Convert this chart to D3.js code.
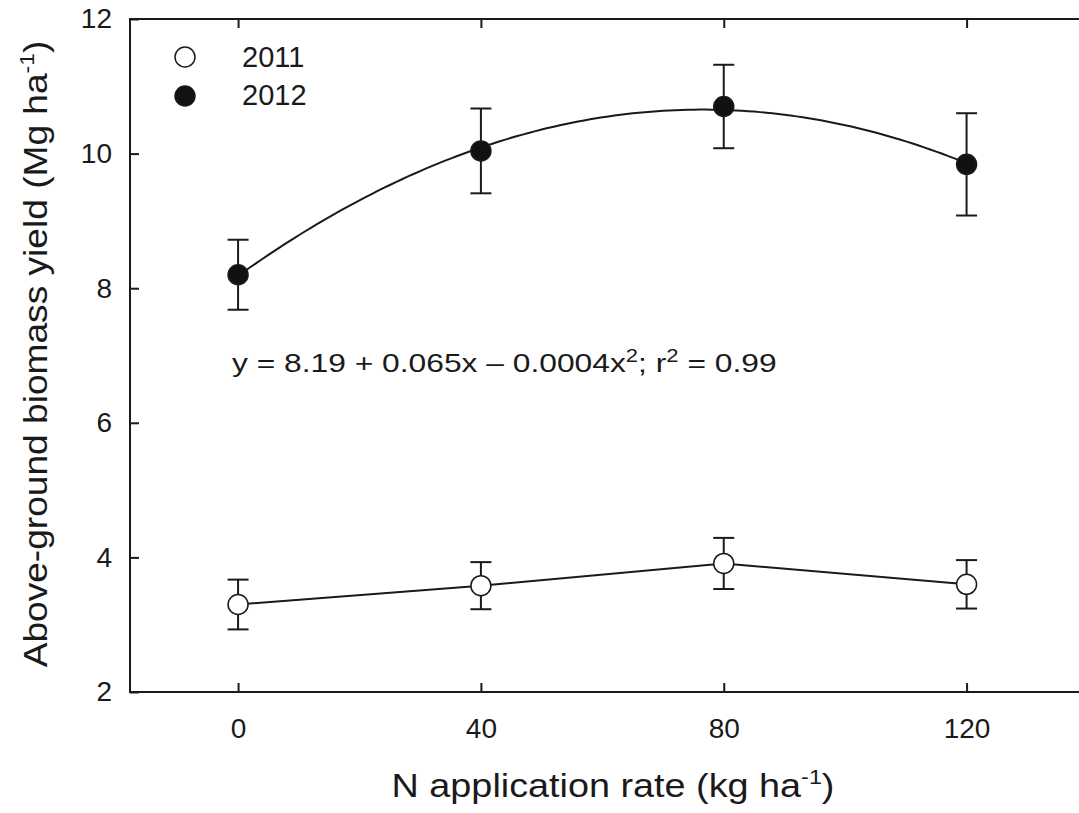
<!DOCTYPE html>
<html>
<head>
<meta charset="utf-8">
<script src="https://cdn.jsdelivr.net/npm/d3@7"></script>
<style>
  body { margin: 0; background: #fff; }
  svg { display: block; font-family: Arial, "Liberation Sans", sans-serif; }
  text { fill: #1a1a1a; }
</style>
</head>
<body>
<svg id="svg" width="1079" height="813"></svg>
<script>
// N rates (kg ha-1)
var rates = [0, 40, 80, 120];
// yields (Mg ha-1) and standard errors
var yield2011 = [3.30, 3.58, 3.91, 3.60];
var err2011 = [0.37, 0.35, 0.38, 0.36];
var yield2012 = [8.20, 10.04, 10.70, 9.84];
var err2012 = [0.52, 0.63, 0.62, 0.76];
var years = ['2011', '2012'];
var xTicks = [0, 40, 80, 120];
var yTicks = [2, 4, 6, 8, 10, 12];

(function() {

var svg = d3.select('#svg');
// plot frame (right edge sits just outside the picture)
var pLeft = 130, pRight = 1088, pTop = 19, pBottom = 692;

var x = d3.scaleLinear().domain([-17.8, 140]).range([pLeft, pRight]);
var y = d3.scaleLinear().domain([2, 12]).range([pBottom, pTop]);
var ink = '#1a1a1a';

// stretch a text along its own baseline so it spans w pixels
function stretchTo(sel, w, base) {
  var len = sel.node().getComputedTextLength();
  var k = w / len;
  sel.attr('transform', (base || '') + ' scale(' + k + ',1)');
}

svg.append('rect')
  .attr('x', pLeft).attr('y', pTop)
  .attr('width', pRight - pLeft).attr('height', pBottom - pTop)
  .attr('fill', 'none').attr('stroke', ink).attr('stroke-width', 2);

// inward ticks on all four sides
var tickLen = 9;
function styleAxis(g) {
  g.select('.domain').remove();
  g.selectAll('line').attr('stroke', ink).attr('stroke-width', 2);
  g.selectAll('text').attr('font-size', 28).attr('fill', ink);
}
svg.append('g').attr('transform', 'translate(0,' + pBottom + ')')
  .call(d3.axisBottom(x).tickValues(xTicks).tickSizeInner(-tickLen).tickPadding(26).tickFormat(d3.format('d')))
  .call(styleAxis);
svg.append('g').attr('transform', 'translate(0,' + pTop + ')')
  .call(d3.axisTop(x).tickValues(xTicks).tickSizeInner(-tickLen).tickFormat(''))
  .call(styleAxis);
svg.append('g').attr('transform', 'translate(' + pLeft + ',0)')
  .call(d3.axisLeft(y).tickValues(yTicks).tickSizeInner(-tickLen).tickPadding(18).tickFormat(d3.format('d')))
  .call(styleAxis);
svg.append('g').attr('transform', 'translate(' + pRight + ',0)')
  .call(d3.axisRight(y).tickValues(yTicks).tickSizeInner(-tickLen).tickFormat(''))
  .call(styleAxis);

// axis titles
var xt = svg.append('text').attr('x', 0).attr('y', 0)
  .attr('text-anchor', 'middle').attr('font-size', 34);
xt.append('tspan').text('N application rate (kg ha');
xt.append('tspan').attr('dy', -13).attr('font-size', 21).text('-1');
xt.append('tspan').attr('dy', 13).text(')');
stretchTo(xt, 443, 'translate(613,797)');

var yt = svg.append('text').attr('x', 0).attr('y', 0)
  .attr('text-anchor', 'middle').attr('font-size', 34);
yt.append('tspan').text('Above-ground biomass yield (Mg ha');
yt.append('tspan').attr('dy', -13).attr('font-size', 21).text('-1');
yt.append('tspan').attr('dy', 13).text(')');
stretchTo(yt, 627, 'translate(47,354) rotate(-90)');

// quadratic least-squares fit of the 2012 means
function quadFit(xs, ys) {
  var s = [0, 0, 0, 0, 0], t = [0, 0, 0];
  xs.forEach(function(xi, i) {
    for (var k = 0; k < 5; k++) s[k] += Math.pow(xi, k);
    for (var k = 0; k < 3; k++) t[k] += ys[i] * Math.pow(xi, k);
  });
  var A = [[s[0], s[1], s[2], t[0]], [s[1], s[2], s[3], t[1]], [s[2], s[3], s[4], t[2]]];
  for (var i = 0; i < 3; i++) {
    for (var j = i + 1; j < 3; j++) {
      var f = A[j][i] / A[i][i];
      for (var k = i; k < 4; k++) A[j][k] -= f * A[i][k];
    }
  }
  var c = [0, 0, 0];
  for (var i = 2; i >= 0; i--) {
    var v = A[i][3];
    for (var k = i + 1; k < 3; k++) v -= A[i][k] * c[k];
    c[i] = v / A[i][i];
  }
  return c;
}
var coef = quadFit(rates, yield2012);
var fitX = d3.range(0, 120.5, 1);
svg.append('path')
  .datum(fitX)
  .attr('fill', 'none').attr('stroke', ink).attr('stroke-width', 2)
  .attr('d', d3.line()
    .x(function(d) { return x(d); })
    .y(function(d) { return y(coef[0] + coef[1] * d + coef[2] * d * d); }));

// 2011 joined by straight segments
svg.append('path')
  .datum(rates)
  .attr('fill', 'none').attr('stroke', ink).attr('stroke-width', 2)
  .attr('d', d3.line()
    .x(function(d) { return x(d); })
    .y(function(d, i) { return y(yield2011[i]); }));

// error bars + markers
function drawSeries(vals, errs, fill) {
  var g = svg.append('g');
  var capW = 10.5;
  rates.forEach(function(r, i) {
    var cx = x(r);
    var hi = y(vals[i] + errs[i]), lo = y(vals[i] - errs[i]);
    g.append('line').attr('x1', cx).attr('x2', cx).attr('y1', hi).attr('y2', lo)
      .attr('stroke', ink).attr('stroke-width', 2);
    [hi, lo].forEach(function(yy) {
      g.append('line').attr('x1', cx - capW).attr('x2', cx + capW).attr('y1', yy).attr('y2', yy)
        .attr('stroke', ink).attr('stroke-width', 2);
    });
  });
  g.selectAll('circle').data(vals).enter().append('circle')
    .attr('cx', function(d, i) { return x(rates[i]); })
    .attr('cy', function(d) { return y(d); })
    .attr('r', 10)
    .attr('fill', fill).attr('stroke', ink).attr('stroke-width', 1.5);
}
drawSeries(yield2011, err2011, '#fff');
drawSeries(yield2012, err2012, '#111');

// equation
var eq = svg.append('text').attr('x', 0).attr('y', 0).attr('font-size', 26);
eq.append('tspan').text('y = 8.19 + 0.065x \u2013 0.0004x');
eq.append('tspan').attr('dy', -10).attr('font-size', 18).text('2');
eq.append('tspan').attr('dy', 10).text('; r');
eq.append('tspan').attr('dy', -10).attr('font-size', 18).text('2');
eq.append('tspan').attr('dy', 10).text(' = 0.99');
stretchTo(eq, 545, 'translate(232,372)');

// legend
var legend = svg.append('g');
years.forEach(function(yr, i) {
  legend.append('circle').attr('cx', 185).attr('cy', 57 + i * 39).attr('r', 10)
    .attr('fill', i === 0 ? '#fff' : '#111').attr('stroke', ink).attr('stroke-width', 1.5);
  legend.append('text').attr('x', 242).attr('y', 67 + i * 38).attr('font-size', 29).text(yr);
});

})();
</script>
</body>
</html>
